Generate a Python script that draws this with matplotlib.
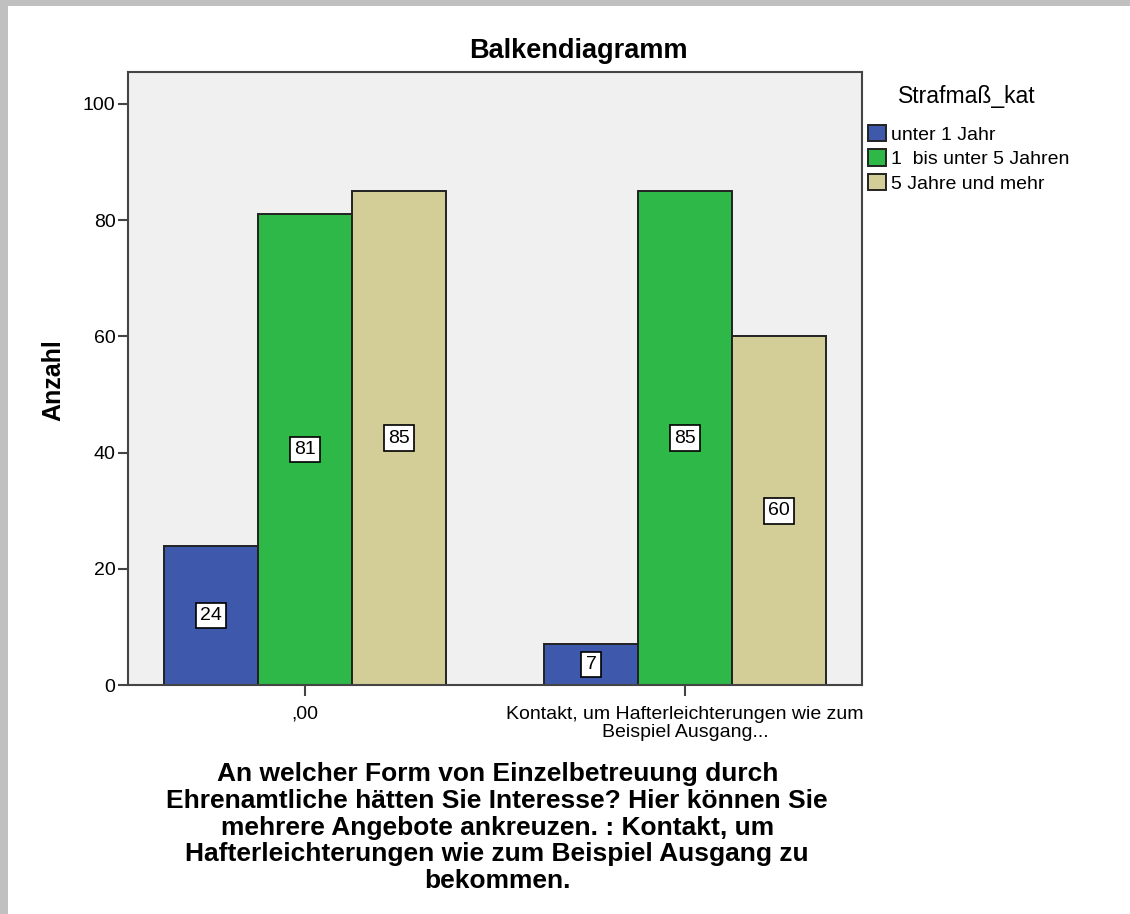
import matplotlib
matplotlib.use("Agg")
import matplotlib.pyplot as plt
import numpy as np
from matplotlib.patches import Patch, Rectangle

# data
categories = [",00", "Kontakt, um Hafterleichterungen wie zum\nBeispiel Ausgang..."]
series_names = ["unter 1 Jahr", "1  bis unter 5 Jahren", "5 Jahre und mehr"]
unter_1 = [24, 7]
bis_5 = [81, 85]
ab_5 = [85, 60]
colors = ["#3e58ac", "#2eb848", "#d3ce97"]

x_title = ("An welcher Form von Einzelbetreuung durch\n"
           "Ehrenamtliche hätten Sie Interesse? Hier können Sie\n"
           "mehrere Angebote ankreuzen. : Kontakt, um\n"
           "Hafterleichterungen wie zum Beispiel Ausgang zu\n"
           "bekommen.")

plt.rcParams["font.family"] = ["Liberation Sans", "DejaVu Sans"]

fig = plt.figure(figsize=(11.3, 9.14), dpi=100)
ax = fig.add_axes([0.1133, 0.2505, 0.6496, 0.6707])
ax.set_facecolor("#f0f0f0")

x = np.arange(len(categories))
width = 0.247
for i, (vals, col) in enumerate(zip([unter_1, bis_5, ab_5], colors)):
    pos = x + (i - 1) * width
    bars = ax.bar(pos, vals, width, color=col, edgecolor="#222222", linewidth=1.4, zorder=2)
    for b, v in zip(bars, vals):
        ax.text(b.get_x() + b.get_width() / 2, v / 2, str(v), ha="center", va="center",
                fontsize=14, zorder=3,
                bbox=dict(boxstyle="square,pad=0.22", facecolor="white", edgecolor="black", linewidth=1.2))

ax.set_xlim(-0.466, 1.466)
ax.set_ylim(0, 105.5)
ax.set_yticks([0, 20, 40, 60, 80, 100])
ax.set_xticks(x)
ax.set_xticklabels(categories, fontsize=14, linespacing=1.05)
ax.tick_params(axis="y", labelsize=14, length=7, width=1.5, color="#444444", pad=2)
ax.tick_params(axis="x", length=8, width=1.5, color="#444444", pad=7)
for s in ax.spines.values():
    s.set_color("#444444")
    s.set_linewidth(1.5)

fig.text(0.5115, 0.944, "Balkendiagramm", ha="center", va="center", fontsize=19.5, fontweight="bold")
fig.text(0.047, 0.584, "Anzahl", ha="center", va="center", rotation=90, fontsize=18, fontweight="bold")
fig.text(0.44, 0.166, x_title, ha="center", va="top", fontsize=19, fontweight="bold", linespacing=1.14)

# legend title drawn separately so its gap to the entries matches
fig.text(0.856, 1 - 97 / 914, "Strafmaß_kat", ha="center", va="center", fontsize=16.5)
handles = [Patch(facecolor=c, edgecolor="#222222", linewidth=1.4) for c in colors]
fig.legend(handles, series_names, loc="upper left", bbox_to_anchor=(0.763, 1 - 119 / 914),
           frameon=False, fontsize=14, handlelength=0.9, handleheight=0.9,
           handletextpad=0.3, labelspacing=0.3, borderaxespad=0, borderpad=0.3)

# grey frame at top and left edges
fig.patches.append(Rectangle((0, 1 - 6 / 914), 1, 6 / 914, transform=fig.transFigure,
                             facecolor="#c0c0c0", edgecolor="none"))
fig.patches.append(Rectangle((0, 0), 8 / 1130, 1, transform=fig.transFigure,
                             facecolor="#c0c0c0", edgecolor="none"))

fig.savefig("out.png", dpi=100)
